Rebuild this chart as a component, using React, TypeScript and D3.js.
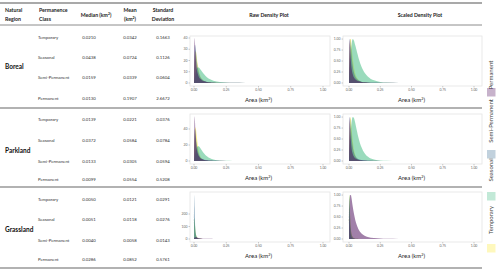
import * as d3 from 'd3';

const W = 500;
const H = 272;
const FONT = 'Lato, "Open Sans", sans-serif';

const REGIONS = ['Boreal', 'Parkland', 'Grassland'];
const CLASSES = ['Temporary', 'Seasonal', 'Semi-Permanent', 'Permanent'];
const LEGEND = ['Permanent', 'Semi-Permanent', 'Seasonal', 'Temporary'];

// table values per region, rows in CLASSES order
const BOREAL_MEDIAN = ['0.0210', '0.0438', '0.0159', '0.0130'];
const BOREAL_MEAN = ['0.0342', '0.0724', '0.0339', '0.1907'];
const BOREAL_SD = ['0.1663', '0.1126', '0.0604', '2.6672'];
const PARKLAND_MEDIAN = ['0.0139', '0.0372', '0.0133', '0.0099'];
const PARKLAND_MEAN = ['0.0221', '0.0584', '0.0305', '0.0554'];
const PARKLAND_SD = ['0.0376', '0.0784', '0.0594', '0.5208'];
const GRASSLAND_MEDIAN = ['0.0050', '0.0051', '0.0040', '0.0286'];
const GRASSLAND_MEAN = ['0.0121', '0.0118', '0.0058', '0.0852'];
const GRASSLAND_SD = ['0.0291', '0.0276', '0.0143', '0.5761'];

// density estimates (km2 grid)
const XS = [0, 0.0025, 0.005, 0.0075, 0.01, 0.015, 0.02, 0.03, 0.04, 0.05, 0.06, 0.08, 0.1, 0.125, 0.15, 0.2, 0.25, 0.3, 0.4, 0.5, 0.75, 1.0];

const BOREAL_PERM = [8, 30, 40, 36, 30, 20, 14, 8, 5, 3.5, 2.5, 1.5, 1, 0.7, 0.5, 0.3, 0.2, 0.15, 0.1, 0.07, 0.04, 0.02];
const BOREAL_SEMI = [6, 20, 30, 34, 33, 28, 22, 13, 8, 5, 3.5, 1.8, 1, 0.5, 0.3, 0.1, 0.05, 0.02, 0.01, 0, 0, 0];
const BOREAL_SEAS = [1, 2.5, 4, 5.5, 7, 10, 12, 14, 13.5, 12, 10.5, 7.5, 5.2, 3.3, 2.1, 0.85, 0.35, 0.15, 0.03, 0.01, 0, 0];
const BOREAL_TEMP = [4, 12, 20, 26, 28, 28, 24, 16, 10, 6, 4, 1.8, 0.8, 0.4, 0.2, 0.05, 0.02, 0.01, 0, 0, 0, 0];

const PARK_PERM = [10, 40, 56, 50, 40, 26, 17, 9, 5.5, 3.5, 2.5, 1.4, 0.9, 0.55, 0.35, 0.18, 0.1, 0.06, 0.03, 0.02, 0.01, 0];
const PARK_SEMI = [6, 24, 36, 40, 38, 30, 23, 13, 7.5, 4.5, 3, 1.5, 0.8, 0.4, 0.2, 0.07, 0.03, 0.01, 0, 0, 0, 0];
const PARK_SEAS = [1, 3, 5, 7, 9, 13, 16, 18.5, 18, 16, 13.5, 9, 5.8, 3.3, 1.9, 0.65, 0.25, 0.1, 0.02, 0, 0, 0];
const PARK_TEMP = [5, 18, 30, 38, 42, 40, 33, 20, 11, 6, 3.2, 1, 0.35, 0.1, 0.03, 0, 0, 0, 0, 0, 0, 0];

const GRASS_PERM = [3, 8, 12, 14, 15, 15, 14, 11, 8.5, 6.5, 5, 3, 1.9, 1.1, 0.7, 0.3, 0.15, 0.08, 0.03, 0.01, 0, 0];
const GRASS_SEMI = [120, 350, 250, 140, 80, 35, 16, 5, 2, 0.8, 0.3, 0.1, 0, 0, 0, 0, 0, 0, 0, 0, 0, 0];
const GRASS_SEAS = [70, 170, 155, 112, 76, 38, 19, 7, 3, 1.2, 0.5, 0.12, 0.04, 0, 0, 0, 0, 0, 0, 0, 0, 0];
const GRASS_TEMP = [60, 160, 150, 110, 75, 38, 20, 7, 3, 1.3, 0.6, 0.15, 0.05, 0, 0, 0, 0, 0, 0, 0, 0, 0];

const RAW_TICKS = [[0, 10, 20, 30, 40], [0, 20, 40], [0, 100, 200]];
const RAW_MAX = [41.8, 58.7, 376];
const X_TICKS = [0, 0.25, 0.5, 0.75, 1];
const SCALED_TICKS = [0, 0.25, 0.5, 0.75, 1];

const COLORS: Record<string, string> = {
  Permanent: '#440154',
  'Semi-Permanent': '#31688e',
  Seasonal: '#35b779',
  Temporary: '#fde725',
};

const TABLE = [
  { median: BOREAL_MEDIAN, mean: BOREAL_MEAN, sd: BOREAL_SD },
  { median: PARKLAND_MEDIAN, mean: PARKLAND_MEAN, sd: PARKLAND_SD },
  { median: GRASSLAND_MEDIAN, mean: GRASSLAND_MEAN, sd: GRASSLAND_SD },
];

const DENS = [
  { Permanent: BOREAL_PERM, 'Semi-Permanent': BOREAL_SEMI, Seasonal: BOREAL_SEAS, Temporary: BOREAL_TEMP },
  { Permanent: PARK_PERM, 'Semi-Permanent': PARK_SEMI, Seasonal: PARK_SEAS, Temporary: PARK_TEMP },
  { Permanent: GRASS_PERM, 'Semi-Permanent': GRASS_SEMI, Seasonal: GRASS_SEAS, Temporary: GRASS_TEMP },
];

const ROW_TOP = [25, 108, 187];
const ROW_Y = [
  [37, 57, 77, 98],
  [119, 140, 161, 179],
  [199, 219, 240, 259],
];
const PANEL_TOP = [36, 114, 192];
const PANEL_H = 50;

function Panel({ ri, scaled }: { ri: number; scaled: boolean }) {
  const left = scaled ? 343 : 190;
  const right = scaled ? 482 : 330;
  const top = PANEL_TOP[ri];
  const bottom = top + PANEL_H;
  const x = d3.scaleLinear().domain([0, 1]).range(scaled ? [349, 474] : [194, 323]);
  const yMax = scaled ? 1.07 : RAW_MAX[ri];
  const y = d3.scaleLinear().domain([0, yMax]).range([bottom - 3, top]);
  const ticks = scaled ? SCALED_TICKS : RAW_TICKS[ri];
  const dens = DENS[ri] as Record<string, number[]>;
  // draw order: the temporary layer sits underneath
  const order = ['Temporary', 'Seasonal', 'Semi-Permanent', 'Permanent'];
  const centre = (x(0) + x(1)) / 2;
  return (
    <g>
      <rect x={left} y={top} width={right - left} height={PANEL_H} fill="#fff" stroke="#e4e4e4" strokeWidth={0.8} />
      {order.map((c) => {
        const vals = dens[c];
        const m = d3.max(vals) as number;
        const pts = XS.map((xv, i) => [xv, scaled ? vals[i] / m : vals[i]] as [number, number]);
        const area = d3
          .area<[number, number]>()
          .x((d) => x(d[0]))
          .y0(y(0))
          .y1((d) => y(Math.min(d[1], yMax)))
          .curve(d3.curveMonotoneX);
        return <path key={c} d={area(pts) || ''} fill={COLORS[c]} fillOpacity={0.5} stroke="none" />;
      })}
      {ticks.map((t) => (
        <g key={'y' + t}>
          <line x1={left - 1.5} x2={left} y1={y(t)} y2={y(t)} stroke="#999" strokeWidth={0.5} />
          <text x={left - 2.5} y={y(t)} dy="0.35em" textAnchor="end" fontSize={3.4} fill="#666">
            {scaled ? d3.format('.2f')(t) : t}
          </text>
        </g>
      ))}
      {X_TICKS.map((t) => (
        <g key={'x' + t}>
          <line x1={x(t)} x2={x(t)} y1={bottom} y2={bottom + 1.5} stroke="#999" strokeWidth={0.5} />
          <text x={x(t)} y={bottom + 4.5} textAnchor="middle" fontSize={3.4} fill="#666">
            {d3.format('.2f')(t)}
          </text>
        </g>
      ))}
      <text x={centre} y={bottom + 16} textAnchor="middle" fontSize={6} fill="#222">
        Area (km<tspan fontSize={3.8} dy={-2.5}>2</tspan><tspan dy={2.5}>)</tspan>
      </text>
    </g>
  );
}

export default function App() {
  const legendSq = [88, 150, 192, 244];
  const legendTxt = [75, 121, 170, 220];
  return (
    <svg width={W} height={H} style={{ position: 'absolute', left: 0, top: 0 }} fontFamily={FONT}>
      <rect width={W} height={H} fill="#fff" />
      {/* header */}
      <line x1={0} x2={482} y1={3} y2={3} stroke="#8c8c8c" strokeWidth={1.5} />
      <line x1={0} x2={482} y1={25} y2={25} stroke="#8c8c8c" strokeWidth={1} />
      <g fontWeight="bold" fontSize={5.2} fill="#222">
        <text x={5} y={12}>Natural</text>
        <text x={5} y={21}>Region</text>
        <text x={39} y={12}>Permanence</text>
        <text x={39} y={21}>Class</text>
        <text x={96} y={16.5} textAnchor="middle">
          Median (km<tspan fontSize={3.4} dy={-2}>2</tspan><tspan dy={2}>)</tspan>
        </text>
        <text x={130} y={12} textAnchor="middle">Mean</text>
        <text x={130} y={21} textAnchor="middle">
          (km<tspan fontSize={3.4} dy={-2}>2</tspan><tspan dy={2}>)</tspan>
        </text>
        <text x={163} y={12} textAnchor="middle">Standard</text>
        <text x={163} y={21} textAnchor="middle">Deviation</text>
        <text x={269} y={16.5} textAnchor="middle">Raw  Density Plot</text>
        <text x={420} y={16.5} textAnchor="middle">Scaled  Density Plot</text>
      </g>
      {REGIONS.map((r, ri) => (
        <g key={r}>
          <text x={5} y={(ROW_Y[ri][1] + ROW_Y[ri][2]) / 2 + 2} fontWeight="bold" fontSize={6.5} fill="#111">
            {r}
          </text>
          {CLASSES.map((c, ci) => (
            <g key={c} fontSize={4.3} fill="#333">
              <text x={38} y={ROW_Y[ri][ci] + 1.5}>{c}</text>
              <text x={89} y={ROW_Y[ri][ci] + 1.5} textAnchor="middle">{TABLE[ri].median[ci]}</text>
              <text x={130} y={ROW_Y[ri][ci] + 1.5} textAnchor="middle">{TABLE[ri].mean[ci]}</text>
              <text x={163} y={ROW_Y[ri][ci] + 1.5} textAnchor="middle">{TABLE[ri].sd[ci]}</text>
            </g>
          ))}
          <Panel ri={ri} scaled={false} />
          <Panel ri={ri} scaled={true} />
          {ri > 0 && <line x1={0} x2={482} y1={ROW_TOP[ri]} y2={ROW_TOP[ri]} stroke="#999" strokeWidth={1.6} />}
        </g>
      ))}
      <line x1={0} x2={482} y1={268} y2={268} stroke="#999" strokeWidth={1.6} />
      {/* legend */}
      {LEGEND.map((c, i) => (
        <g key={c}>
          <text
            transform={`translate(${493},${legendTxt[i]}) rotate(-90)`}
            textAnchor="middle"
            fontSize={6}
            fill="#444"
          >
            {c}
          </text>
          <rect x={487} y={legendSq[i]} width={8.5} height={8.5} fill={COLORS[c]} fillOpacity={0.3} />
        </g>
      ))}
    </svg>
  );
}
